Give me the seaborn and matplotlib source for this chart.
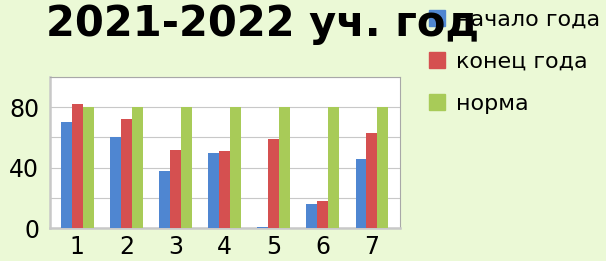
import pandas as pd
import matplotlib.pyplot as plt
import seaborn as sns

# data
categories = ['1', '2', '3', '4', '5', '6', '7']
start_year = [70, 60, 38, 50, 0.5, 16, 46]
end_year = [82, 72, 52, 51, 59, 18, 63]
norm = [80, 80, 80, 80, 80, 80, 80]
series = ['начало года', 'конец года', 'норма']
colors = ['#4f86d1', '#d55050', '#a8cb58']

df = pd.DataFrame({
    'cat': categories * 3,
    'val': start_year + end_year + norm,
    'series': [series[0]] * 7 + [series[1]] * 7 + [series[2]] * 7,
})

sns.set_style('white')
plt.rcParams['font.family'] = ['DejaVu Sans']
plt.rcParams['text.color'] = 'black'
plt.rcParams['xtick.color'] = 'black'
plt.rcParams['ytick.color'] = 'black'

fig = plt.figure(figsize=(6.06, 2.61), dpi=100, facecolor='#ebf9d6')
ax = fig.add_axes([0.083, 0.126, 0.577, 0.579])
ax.set_facecolor('white')

sns.barplot(data=df, x='cat', y='val', hue='series', palette=colors,
            saturation=1, width=0.67, gap=0, ax=ax, edgecolor='none',
            zorder=3, legend=False)

ax.set_ylim(0, 100)
ax.set_xlim(-0.55, 6.57)
ax.set_yticks([0, 40, 80])
ax.set_yticks([20, 60, 100], minor=True)
ax.yaxis.grid(True, which='both', color='#c8c8c8', lw=0.8, zorder=0)
ax.tick_params(axis='both', labelsize=17, length=0)
ax.tick_params(axis='y', pad=8)
ax.tick_params(axis='x', pad=5)
ax.set_xlabel('')
ax.set_ylabel('')
for s in ax.spines.values():
    s.set_color('#a8a8a8')
    s.set_linewidth(0.8)
ax.spines['bottom'].set_linewidth(1.8)
ax.spines['bottom'].set_color('#c8c8c8')
ax.spines['left'].set_linewidth(1.8)
ax.spines['left'].set_color('#c8c8c8')

handles = [plt.Rectangle((0, 0), 1, 1, color=c) for c in colors]
fig.legend(handles, series, loc='upper left', bbox_to_anchor=(0.675, 1.04),
           frameon=False, fontsize=16, handlelength=0.7, handleheight=0.7,
           handletextpad=0.5, labelspacing=1.0)

fig.text(0.433, 0.99, '2021-2022 уч. год', ha='center', va='top',
         fontsize=30, fontweight='bold', zorder=10)

fig.savefig('out.png', dpi=100, facecolor=fig.get_facecolor())
